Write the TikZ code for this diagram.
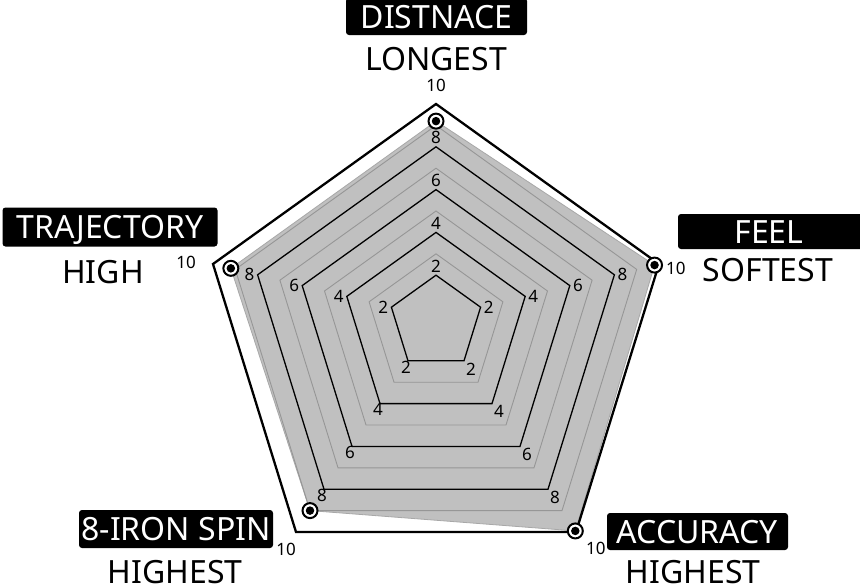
\documentclass[tikz,border=0pt]{standalone}
\usepackage{fontspec}
\setmainfont{Noto Sans}
\usetikzlibrary{calc}
\definecolor{fillg}{RGB}{192,192,192}
\definecolor{ringg}{RGB}{150,150,150}
\definecolor{edgeg}{RGB}{168,168,168}
\begin{document}
\begin{tikzpicture}[x=1pt,y=-1pt,
  ringblack/.style={draw=black,line width=1.3pt},
  ringgray/.style={draw=ringg,line width=0.9pt},
  outerring/.style={draw=black,line width=2.3pt},
  datapoly/.style={fill=fillg,draw=edgeg,line width=0.8pt},
  tick/.style={font=\fontsize{17}{17}\selectfont,inner sep=0pt,text height=12pt,text depth=0pt},
  catbox/.style={fill=black,text=white,rounded corners=3pt,font=\fontsize{32}{32}\selectfont,inner sep=0pt,text height=23pt,text depth=0pt},
  catsub/.style={font=\fontsize{32}{32}\selectfont,inner sep=0pt,text height=23pt,text depth=0pt},
  marker/.style={circle,draw=black,line width=2pt,fill=white,minimum size=15pt,inner sep=0pt},
  markdot/.style={circle,fill=black,minimum size=8.5pt,inner sep=0pt}]

\useasboundingbox (0,0) rectangle (860,584);
\fill[white] (0,0) rectangle (860,584);

\coordinate (C) at (436,318);
\foreach \k in {1,...,10}{
  \coordinate (D\k) at ($(C)+\k*(0,-21.4)$);
  \coordinate (F\k) at ($(C)+\k*(22.3,-5.4)$);
  \coordinate (A\k) at ($(C)+\k*(14,21.4)$);
  \coordinate (S\k) at ($(C)+\k*(-14,21.4)$);
  \coordinate (T\k) at ($(C)+\k*(-22.3,-5.4)$);
}

% data values
\coordinate (pD) at ($(C)+9.2*(0,-21.4)$);
\coordinate (pF) at ($(C)+9.8*(22.3,-5.4)$);
\coordinate (pA) at ($(C)+9.95*(14,21.4)$);
\coordinate (pS) at ($(C)+9.0*(-14,21.4)$);
\coordinate (pT) at ($(C)+9.2*(-22.3,-5.4)$);

\path[datapoly] (pD) -- (pF) -- (pA) -- (pS) -- (pT) -- cycle;

\foreach \k in {3,5,7,9}
  \draw[ringgray] (D\k) -- (F\k) -- (A\k) -- (S\k) -- (T\k) -- cycle;
\foreach \k in {2,4,6,8}
  \draw[ringblack] (D\k) -- (F\k) -- (A\k) -- (S\k) -- (T\k) -- cycle;
\draw[outerring] (D10) -- (F10) -- (A10) -- (S10) -- (T10) -- cycle;

% tick labels
\foreach \k in {2,4,6,8}{
  \node[tick,anchor=south] (lD\k) at ($(D\k)+(0,-3)$) {\k};
  \node[tick,anchor=west] (lF\k) at ($(F\k)+(3,0)$) {\k};
  \node[tick,anchor=north west] (lA\k) at ($(A\k)+(2,2)$) {\k};
  \node[tick,anchor=north] (lS\k) at ($(S\k)+(-2,0)$) {\k};
  \node[tick,anchor=east] (lT\k) at ($(T\k)+(-3,0)$) {\k};
}
\node[tick,anchor=south] (lD10) at ($(D10)+(0,-12)$) {10};
\node[tick,anchor=west] (lF10) at ($(F10)+(7,4)$) {10};
\node[tick,anchor=north west] (lA10) at ($(A10)+(10,10)$) {10};
\node[tick,anchor=north east] (lS10) at ($(S10)+(0,11)$) {10};
\node[tick,anchor=east] (lT10) at ($(T10)+(-17,-2)$) {10};

% markers
\foreach \p in {D,F,A,S,T}{
  \node[marker] (m\p) at (p\p) {};
  \node[markdot] (md\p) at (m\p) {};
}

% category labels
\node[catbox,minimum width=181pt,minimum height=37pt] (catD) at (436.5,16.5) {DISTNACE};
\node[catsub] (subD) at (436,59) {LONGEST};

\node[catbox,minimum width=215pt,minimum height=39pt] (catT) at (110,227) {TRAJECTORY};
\node[catsub] (subT) at (103,272) {HIGH};

\node[catbox,minimum width=186pt,minimum height=35pt] (catF) at (771,231.5) {\hspace*{-4pt}FEEL};
\node[catsub] (subF) at (768,270) {SOFTEST};

\node[catbox,minimum width=194pt,minimum height=38pt] (catS) at (176,529) {8-IRON SPIN};
\node[catsub] (subS) at (175,572) {HIGHEST};

\node[catbox,minimum width=181pt,minimum height=37pt] (catA) at (697.5,531.5) {ACCURACY};
\node[catsub] (subA) at (693,572) {HIGHEST};

\end{tikzpicture}
\end{document}
